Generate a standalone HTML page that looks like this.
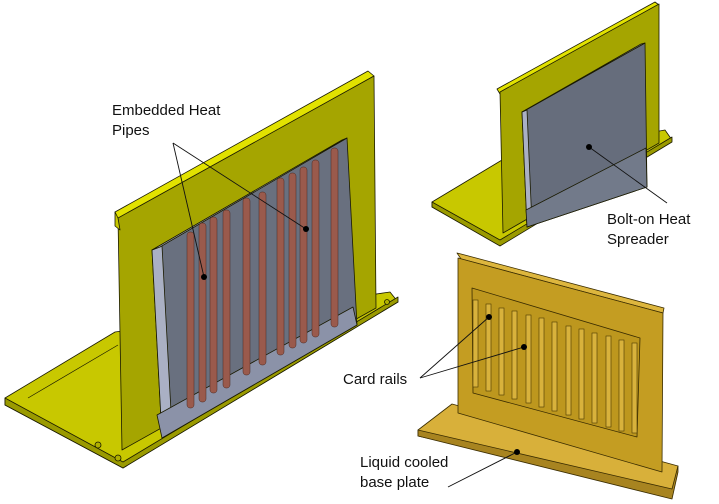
<!DOCTYPE html>
<html><head><meta charset="utf-8"><style>
html,body{margin:0;padding:0;background:#fff;}
svg{display:block}
text{font-family:"Liberation Sans",Arial,sans-serif;font-size:15px;fill:#111}
</style></head><body>
<svg width="719" height="504" viewBox="0 0 719 504" xmlns="http://www.w3.org/2000/svg">
<g stroke="#1a1a00" stroke-width="0.8" stroke-linejoin="round">
<!-- LEFT ASSEMBLY base -->
<polygon points="5,398 115,332 390,292 398,302 123,468 5,405" fill="#c8c800"/>
<polygon points="5,398 123,462 398,297 398,302 123,468 5,405" fill="#9a9a00"/>
<line x1="28" y1="398" x2="118" y2="345" stroke-width="0.7"/>
<circle cx="98" cy="445" r="3" fill="#b0b000"/><circle cx="118" cy="458" r="3" fill="#b0b000"/>
<circle cx="387" cy="302" r="2.5" fill="#b0b000"/>
<!-- plate -->
<polygon points="115,212 368,71 374,76 118,222" fill="#e2e200"/>
<polygon points="118,218 374,76 376,308 122,450" fill="#a5a500"/>
<polygon points="115,212 118,218 120,230 115,226" fill="#c8c800"/>
<!-- spreader -->
<polygon points="152,250 347,138 357,325 162,438" fill="#69707f"/>
<polygon points="152,250 162,246 172,430 162,438" fill="#aab0c4"/>
<polygon points="152,250 342,140 347,138 160,247" fill="#b0b6c8"/>
<polygon points="157,415 353,307 357,325 162,438" fill="#8b92a8"/>
</g>
<g fill="#9a5a4c" stroke="#4a2a22" stroke-width="0.5">
<rect x="187" y="232" width="7" height="176" rx="3"/>
<rect x="199" y="223" width="7" height="179" rx="3"/>
<rect x="210" y="217" width="7" height="176" rx="3"/>
<rect x="223" y="210" width="7" height="178" rx="3"/>
<rect x="243" y="198" width="7" height="177" rx="3"/>
<rect x="259" y="192" width="7" height="173" rx="3"/>
<rect x="277" y="178" width="7" height="177" rx="3"/>
<rect x="289" y="173" width="7" height="175" rx="3"/>
<rect x="300" y="167" width="7" height="176" rx="3"/>
<rect x="312" y="160" width="7" height="177" rx="3"/>
<rect x="331" y="148" width="7" height="179" rx="3"/>
</g>
<g stroke="#111" stroke-width="0.9" fill="none">
<line x1="173" y1="143" x2="204" y2="277"/>
<line x1="173" y1="143" x2="306" y2="229"/>
</g>
<circle cx="204" cy="277" r="3" fill="#000"/><circle cx="306" cy="229" r="3" fill="#000"/>
<text x="112" y="115">Embedded Heat</text>
<text x="112" y="135">Pipes</text>

<!-- RIGHT TOP -->
<g stroke="#1a1a00" stroke-width="0.8" stroke-linejoin="round">
<polygon points="432,202 502,160 665,130 672,140 500,245 432,207" fill="#c8c800"/>
<polygon points="432,202 500,240 672,137 672,142 500,246 432,207" fill="#9a9a00"/>
<polygon points="497,89 655,2 659,5 500,94" fill="#e2e200"/>
<polygon points="500,92 659,4 659,143 503,233" fill="#a5a500"/>
<polygon points="522,112 645,43 647,187 527,227" fill="#666d7c"/>
<polygon points="522,112 527,110 532,225 527,227" fill="#aab0c4"/>
<polygon points="522,112 641,44 645,43 526,110" fill="#b0b6c8"/>
<polygon points="526,210 646,148 647,187 527,227" fill="#727a8a"/>
</g>
<line x1="589" y1="147" x2="667" y2="203" stroke="#111" stroke-width="0.9"/>
<circle cx="589" cy="147" r="3" fill="#000"/>
<text x="607" y="224">Bolt-on Heat</text>
<text x="607" y="244">Spreader</text>

<!-- RIGHT BOTTOM -->
<g stroke="#3a2c00" stroke-width="0.8" stroke-linejoin="round">
<polygon points="418,430 452,404 678,466 672,494 418,436" fill="#d8b03a"/>
<polygon points="418,430 672,489 678,466 678,472 672,499 418,436" fill="#a88420"/>
<polygon points="457,253 461,254 664,308 663,313 461,259" fill="#ddb63e"/>
<polygon points="458,258 663,313 662,472 458,413" fill="#c49d22"/>
<polygon points="472,288 640,338 637,437 473,393" fill="#bd971e"/>
</g>
<g fill="#d8b23c" stroke="#4a3800" stroke-width="0.6">
<rect x="473" y="300" width="5" height="87"/>
<rect x="486" y="304" width="5" height="87"/>
<rect x="499" y="308" width="5" height="87"/>
<rect x="512" y="311" width="5" height="88"/>
<rect x="526" y="315" width="5" height="88"/>
<rect x="539" y="318" width="5" height="89"/>
<rect x="552" y="322" width="5" height="89"/>
<rect x="566" y="326" width="5" height="89"/>
<rect x="579" y="329" width="5" height="90"/>
<rect x="592" y="333" width="5" height="90"/>
<rect x="606" y="336" width="5" height="91"/>
<rect x="619" y="340" width="5" height="91"/>
<rect x="632" y="343" width="5" height="90"/>
</g>
<g stroke="#111" stroke-width="0.9">
<line x1="420" y1="378" x2="489" y2="317"/>
<line x1="420" y1="378" x2="524" y2="347"/>
<line x1="448" y1="487" x2="517" y2="452"/>
</g>
<circle cx="489" cy="317" r="3" fill="#000"/><circle cx="524" cy="347" r="3" fill="#000"/><circle cx="517" cy="452" r="3" fill="#000"/>
<text x="343" y="384">Card rails</text>
<text x="360" y="467">Liquid cooled</text>
<text x="360" y="487">base plate</text>
</svg>
</body></html>
